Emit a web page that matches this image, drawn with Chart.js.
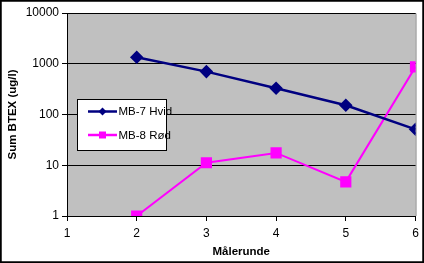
<!DOCTYPE html>
<html>
<head>
<meta charset="utf-8">
<script src="https://cdn.jsdelivr.net/npm/chart.js@4/dist/chart.umd.min.js"></script>
<style>
  html, body { margin: 0; padding: 0; background: #fff; }
  #wrap { width: 424px; height: 263px; }
</style>
</head>
<body>
<div id="wrap"><canvas id="chart" width="424" height="263"></canvas></div>
<script>
// Data
const rounds = [2, 3, 4, 5, 6];
const mb7Values = [1340, 700, 330, 152, 51];
const mb8Values = [1, 11.2, 17.5, 4.7, 870];
const yTickValues = [1, 10, 100, 1000, 10000];
const xTickValues = [1, 2, 3, 4, 5, 6];
const seriesNames = ["MB-7 Hvid", "MB-8 Rød"];

const FONT = "Arial, 'Liberation Sans', sans-serif";

// plot background, borders and the boxed legend
const excelLook = {
    id: "excelLook",
    beforeDraw(chart) {
        const c = chart.ctx, a = chart.chartArea;
        c.save();
        c.fillStyle = "#fff";
        c.fillRect(0, 0, chart.width, chart.height);
        c.fillStyle = "#c0c0c0";
        c.fillRect(a.left, a.top, a.right - a.left, a.bottom - a.top);
        c.strokeStyle = "#808080";
        c.lineWidth = 1;
        c.beginPath();
        c.moveTo(a.left, a.top + 0.5);
        c.lineTo(a.right + 0.5, a.top + 0.5);
        c.lineTo(a.right + 0.5, a.bottom);
        c.stroke();
        c.restore();
    },
    afterDraw(chart) {
        const c = chart.ctx;
        c.save();
        // legend box
        c.fillStyle = "#fff";
        c.fillRect(77.5, 99.5, 89, 51);
        c.strokeStyle = "#000";
        c.lineWidth = 1;
        c.strokeRect(77.5, 99.5, 89, 51);
        c.font = "11.5px " + FONT;
        c.textBaseline = "middle";
        const rows = [111.5, 135];
        chart.data.datasets.forEach(function (ds, i) {
            const y = rows[i];
            c.strokeStyle = ds.borderColor;
            c.lineWidth = 2.5;
            c.beginPath();
            c.moveTo(88, y);
            c.lineTo(117, y);
            c.stroke();
            c.fillStyle = ds.pointBackgroundColor;
            c.beginPath();
            if (ds.pointStyle === "rectRot") {
                c.moveTo(102.5 - 4, y);
                c.lineTo(102.5, y - 4);
                c.lineTo(102.5 + 4, y);
                c.lineTo(102.5, y + 4);
            } else {
                c.rect(99, y - 3.5, 7, 7);
            }
            c.fill();
            c.fillStyle = "#000";
            c.fillText(ds.label, 118.5, y + 0.5);
        });
        // outer frame
        c.strokeStyle = "#000";
        c.strokeRect(0.5, 0.5, chart.width - 1, chart.height - 1);
        c.restore();
    }
};

new Chart(document.getElementById("chart"), {
    type: "line",
    data: {
        datasets: [
            {
                label: seriesNames[0],
                data: rounds.map((r, i) => ({ x: r, y: mb7Values[i] })),
                borderColor: "#000080",
                backgroundColor: "#000080",
                pointBackgroundColor: "#000080",
                pointBorderColor: "#000080",
                pointStyle: "rectRot",
                pointRadius: 5,
                borderWidth: 2.5,
                tension: 0
            },
            {
                label: seriesNames[1],
                data: rounds.map((r, i) => ({ x: r, y: mb8Values[i] })),
                borderColor: "#ff00ff",
                backgroundColor: "#ff00ff",
                pointBackgroundColor: "#ff00ff",
                pointBorderColor: "#ff00ff",
                pointStyle: "rect",
                pointRadius: 6.5,
                borderWidth: 2,
                tension: 0
            }
        ]
    },
    options: {
        responsive: false,
        animation: false,
        events: [],
        layout: { padding: { left: 0, right: 6, top: 13, bottom: 0 } },
        plugins: {
            legend: { display: false },
            tooltip: { enabled: false }
        },
        scales: {
            x: {
                type: "linear",
                min: 1,
                max: 6,
                afterBuildTicks(scale) {
                    scale.ticks = xTickValues.map(v => ({ value: v }));
                },
                afterFit(scale) { scale.height = 47; },
                ticks: {
                    color: "#000",
                    font: { family: FONT, size: 12 },
                    padding: 5,
                    maxRotation: 0
                },
                grid: {
                    drawOnChartArea: false,
                    drawTicks: true,
                    tickLength: 5,
                    tickColor: "#000"
                },
                border: { color: "#000", width: 1 },
                title: {
                    display: true,
                    text: "Målerunde",
                    color: "#000",
                    font: { family: FONT, size: 11.5, weight: "bold" },
                    padding: { top: 0, bottom: 4 }
                }
            },
            y: {
                type: "logarithmic",
                min: 1,
                max: 10000,
                afterBuildTicks(scale) {
                    scale.ticks = yTickValues.map(v => ({ value: v }));
                },
                afterFit(scale) { scale.width = 67; },
                ticks: {
                    color: "#000",
                    font: { family: FONT, size: 12 },
                    padding: 3,
                    callback: v => String(v)
                },
                grid: {
                    color: "#000",
                    lineWidth: 1,
                    drawTicks: true,
                    tickLength: 5,
                    tickColor: "#000"
                },
                border: { color: "#000", width: 1 },
                title: {
                    display: true,
                    text: "Sum BTEX (ug/l)",
                    color: "#000",
                    font: { family: FONT, size: 11.5, weight: "bold" },
                    padding: { top: 6, bottom: 0 }
                }
            }
        }
    },
    plugins: [excelLook]
});
</script>
</body>
</html>
